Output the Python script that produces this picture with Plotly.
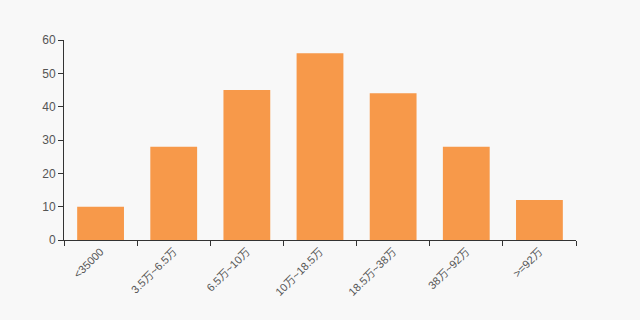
import plotly.graph_objects as go

categories = ["<35000", "3.5万~6.5万", "6.5万~10万", "10万~18.5万", "18.5万~38万", "38万~92万", ">=92万"]
values = [10, 28, 45, 56, 44, 28, 12]
y_ticks = [0, 10, 20, 30, 40, 50, 60]

fig = go.Figure(go.Bar(x=categories, y=values, marker=dict(color="#f7994a", line=dict(width=0)), width=0.64))

font_family = "Liberation Sans, Noto Sans CJK SC, sans-serif"
fig.update_layout(
    width=640, height=320,
    margin=dict(l=64, r=64, t=40, b=80),
    paper_bgcolor="#f8f8f8", plot_bgcolor="#f8f8f8",
    showlegend=False,
    font=dict(family=font_family, size=12, color="#555"),
    bargap=0.36,
)
fig.update_xaxes(
    type="category", tickangle=-45, tickson="boundaries",
    showline=True, linecolor="#333", linewidth=1,
    ticks="outside", ticklen=5, tickcolor="#333",
    showgrid=False, tickfont=dict(size=11, color="#555"),
)
fig.update_yaxes(
    range=[0, 60], tickvals=y_ticks,
    showline=True, linecolor="#333", linewidth=1,
    ticks="outside", ticklen=5, tickcolor="#333",
    showgrid=False, zeroline=False, tickfont=dict(size=12, color="#555"),
)
fig.write_html("out.html")
